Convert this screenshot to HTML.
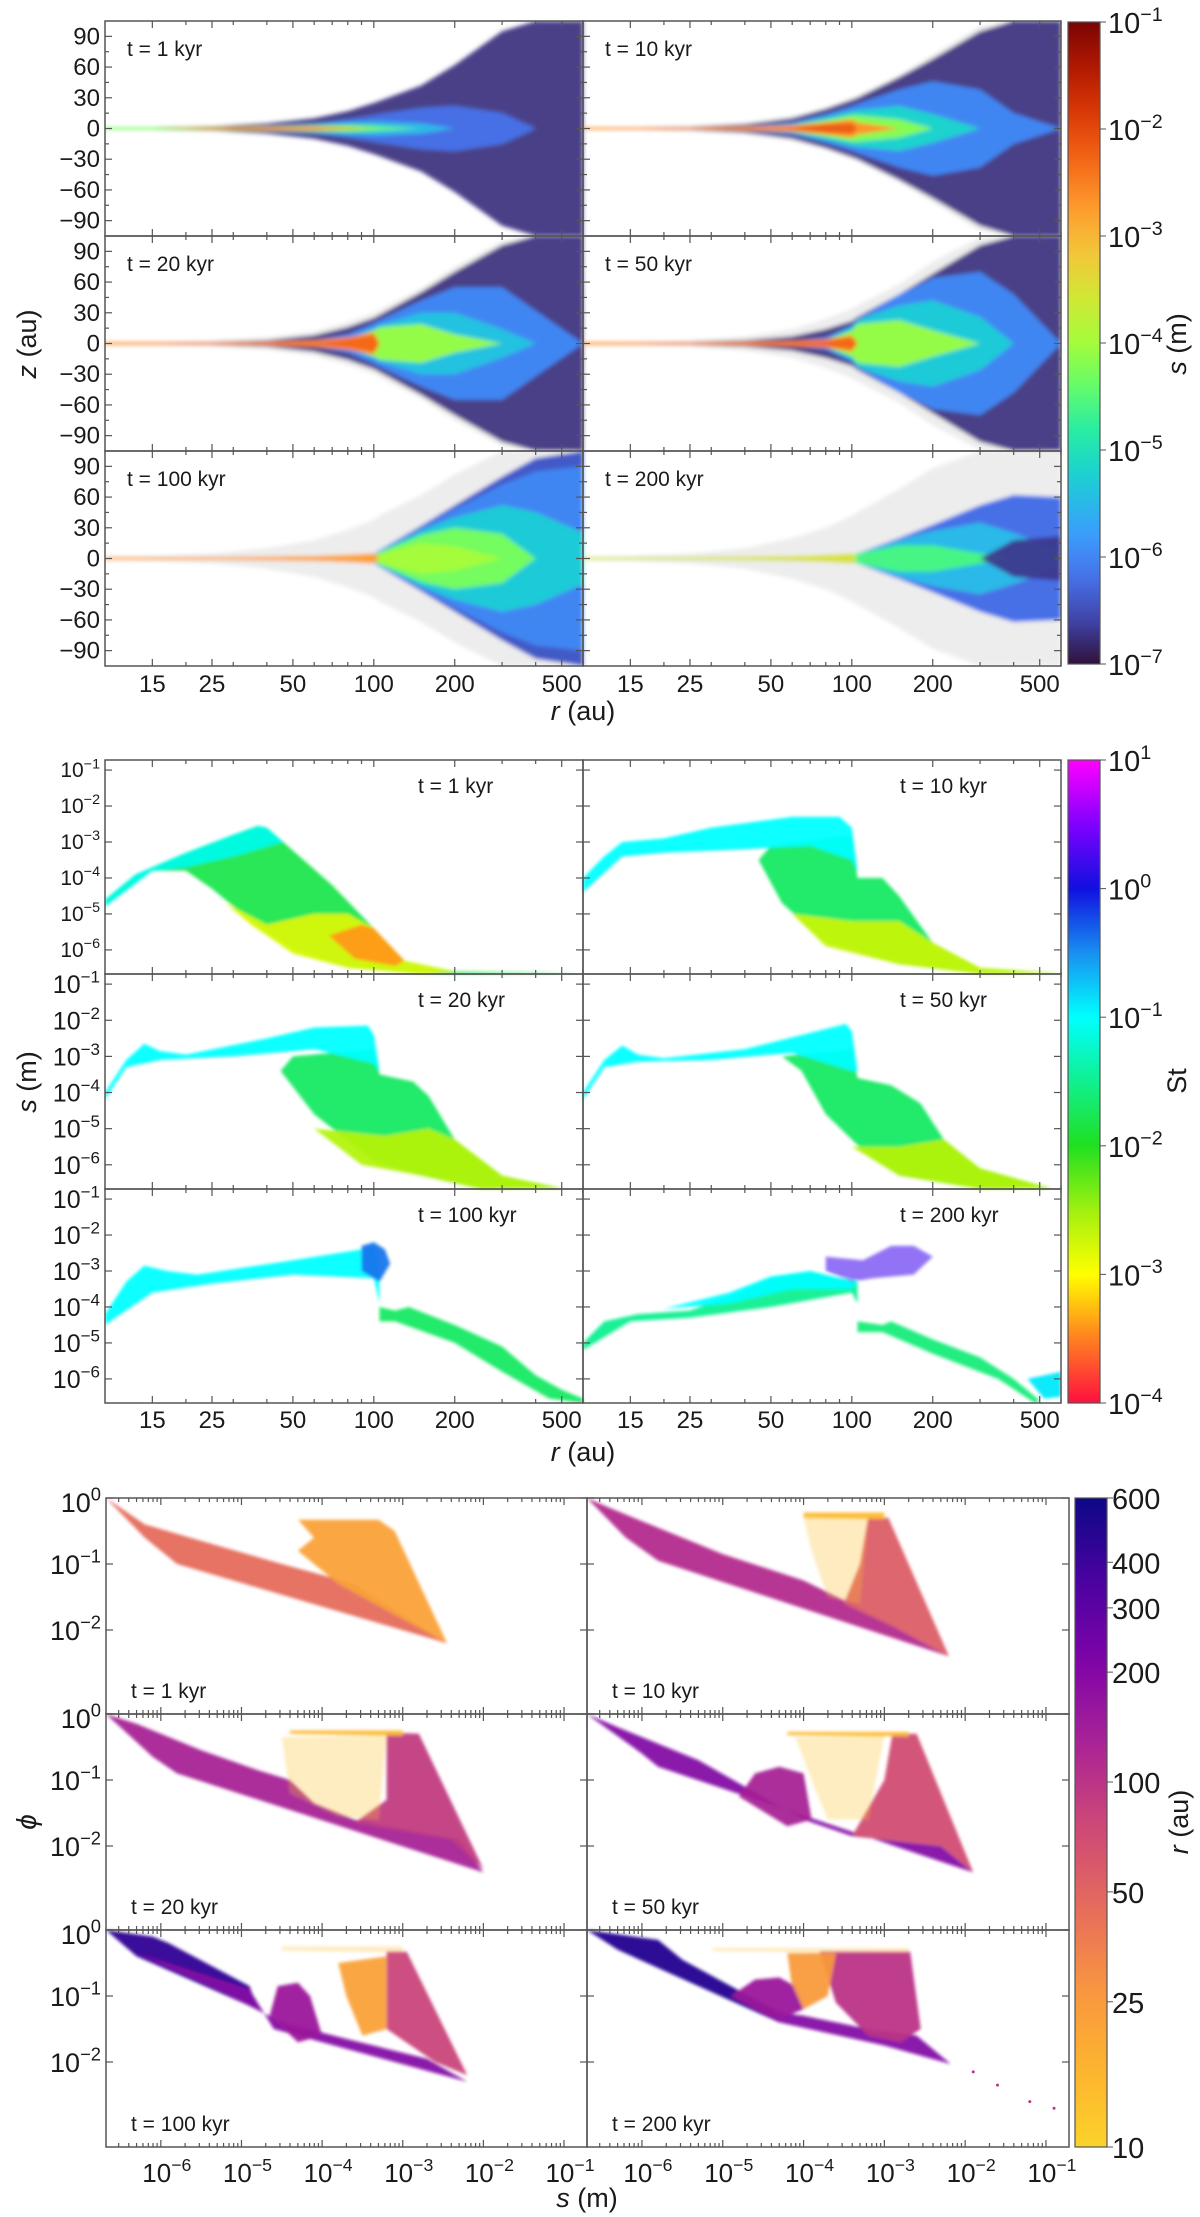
<!DOCTYPE html>
<html><head><meta charset="utf-8"><title>Dust evolution figure</title>
<style>
html,body{margin:0;padding:0;background:#fff;}
svg{display:block;font-family:"Liberation Sans","DejaVu Sans",sans-serif;}
</style></head>
<body>
<svg id="fig" xmlns="http://www.w3.org/2000/svg" width="1200" height="2217" viewBox="0 0 1200 2217">
<defs>
<filter id="blurA" x="-5%" y="-20%" width="110%" height="140%"><feGaussianBlur stdDeviation="2.2"/></filter>
<filter id="blurB" x="-5%" y="-10%" width="110%" height="120%"><feGaussianBlur stdDeviation="1.6"/></filter>
<clipPath id="clipTop"><rect x="105" y="21" width="956" height="645"/></clipPath>
<clipPath id="clipMid"><rect x="105" y="760" width="956" height="643"/></clipPath>
<clipPath id="clipBot"><rect x="106" y="1498" width="963" height="649"/></clipPath>
</defs>
</svg>
<script>
// ---------- Panel A data (r vs z, color = log10 s) ----------
const rGridA = [10,15,25,40,60,80,100,105,150,200,300,400,600];
const A_t1_logs = [-6.75,-6.2,-5.5,-4.3,-2.6];
const A_t1_h = [[0.8,1,2,5,10,17,25,27,42,62,95,105,105],[0,0,0.8,2.5,5,9,13,14,20,22,15,0,0],[0,0,0.5,1.5,3.5,6,7,7,5,0,0,0,0],[1.1,1.1,1.4,2,3,3.5,2.5,2,0,0,0,0,0],[0,0,0.8,1.5,1.8,0.8,0,0,0,0,0,0,0]];
const A_t10_logs = [-7.5,-6.75,-6.0,-5.2,-4.2,-2.7,-2.2];
const A_t10_h = [[1,1.5,3,6,12,20,30,32,52,72,100,105,105],[0.5,0.8,1.5,4,10,19,28,30,50,68,95,105,105],[0,0,0.5,2,6,14,22,24,38,46,38,15,0],[0,0,0.3,1.5,4,11,17,18,22,14,0,0,0],[0,0,0.3,1,3,8,13,13,9,0,0,0,0],[1.1,1.1,1.2,1.8,3,6,9,6,0,0,0,0,0],[0,0,0,0,1,4,5,0,0,0,0,0,0]];
const A_t20_logs = [-7.5,-6.75,-6.0,-5.4,-4.1,-2.6,-2.3];
const A_t20_h = [[1,1.5,3,6,12,21,30,33,54,75,100,105,105],[0.5,0.8,1.5,3,8,16,25,28,50,70,96,105,105],[0,0,0,1,3,9,20,23,42,55,55,32,0],[0,0,0,0.5,2,5,15,18,30,30,14,0,0],[0,0,0,0.3,1,4,13,16,19,9,0,0,0],[1.2,1.2,1.3,1.8,3,6,11,0,0,0,0,0,0],[0,0,0,0,1,4,8,0,0,0,0,0,0]];
const A_t50_logs = [-7.5,-6.75,-6.0,-5.3,-4.1,-2.6,-2.3];
const A_t50_h = [[1,1.5,3,7,14,24,34,37,58,80,104,105,105],[0.5,0.8,1.5,3,7,14,22,26,48,68,96,105,105],[0,0,0,0.5,2,6,18,24,48,64,70,48,0],[0,0,0,0,1,4,15,23,37,42,26,0,0],[0,0,0,0,0.5,3,13,19,23,13,0,0,0],[1.2,1.2,1.3,1.8,2.5,4,8,0,0,0,0,0,0],[0,0,0,0,1,3,6,0,0,0,0,0,0]];
const A_t100_logs = [-7.5,-6.4,-6.0,-5.3,-4.3,-4.0,-2.8];
const A_t100_h = [[1.5,2.5,5,10,18,28,38,42,62,82,105,105,105],[0,0,0,0,0,0,4,8,32,52,80,98,105],[0,0,0,0,0,0,4,8,30,48,72,85,90],[0,0,0,0,0,0,3,7,27,40,52,45,25],[0,0,0,0,0,0,2,6,23,30,24,0,0],[0,0,0,0,0,0,2,5,15,12,0,0,0],[1.2,1.2,1.3,1.8,2.5,3.5,5,0,0,0,0,0,0]];
const A_t200_logs = [-7.5,-6.2,-5.5,-4.6,-6.7,-3.5];
const A_t200_h = [[1.5,2.5,5,10,20,30,42,45,68,88,105,105,105],[0,0,0,0,0,0,3,5,20,33,52,62,60],[0,0,0,0,0,0,3,5,18,27,35,25,8],[0,0,0,0,0,0,3,5,13,13,5,0,0],[0,0,0,0,0,0,0,0,0,0,0,18,22],[1.1,1.1,1.3,1.8,2.5,3.5,5,0,0,0,0,0,0]];
const A_labels = ["t = 1 kyr","t = 10 kyr","t = 20 kyr","t = 50 kyr","t = 100 kyr","t = 200 kyr"];

// ---------- Panel B data (r vs log s, color = log10 St) ----------
const B_t1_st = [-1.8,-1.1,-2.8,-3.4];
const B_t1_shapes = [
 [[10,-4.6],[13,-3.9],[20,-3.3],[30,-2.8],[37,-2.55],[40,-2.6],[70,-4.2],[100,-5.4],[130,-6.3],[200,-6.6],[600,-6.65],[150,-6.67],[80,-6.5],[50,-6.0],[35,-5.2],[25,-4.3],[20,-3.8],[15,-3.8],[10,-4.8]],
 [[10,-4.6],[13,-3.9],[20,-3.3],[30,-2.8],[37,-2.55],[40,-2.6],[46,-3.0],[30,-3.4],[20,-3.7],[15,-3.8],[10,-4.8]],
 [[28,-4.7],[40,-5.3],[60,-5.0],[80,-5.0],[100,-5.4],[130,-6.3],[200,-6.6],[150,-6.67],[80,-6.5],[50,-6.1],[35,-5.3]],
 [[68,-5.6],[90,-5.3],[100,-5.4],[130,-6.3],[120,-6.45],[85,-6.25]]];
const B_t10_st = [-1.7,-2.7,-1.0];
const B_t10_shapes = [
 [[50,-3.1],[100,-2.8],[105,-4.0],[130,-4.0],[150,-4.5],[200,-5.8],[300,-6.5],[600,-6.65],[300,-6.67],[150,-6.4],[80,-5.8],[55,-4.7],[45,-3.5]],
 [[60,-5.0],[100,-5.2],[150,-5.2],[200,-5.8],[300,-6.5],[600,-6.65],[300,-6.67],[150,-6.4],[80,-5.9]],
 [[10,-4.0],[12,-3.4],[14,-3.0],[20,-2.9],[30,-2.6],[60,-2.3],[90,-2.3],[100,-2.6],[105,-3.8],[100,-3.5],[70,-3.1],[40,-3.2],[20,-3.3],[14,-3.4],[10,-4.4]]];
const B_t20_st = [-1.7,-2.6,-1.0];
const B_t20_shapes = [
 [[50,-3.0],[100,-2.8],[105,-3.5],[140,-3.7],[160,-4.1],[200,-5.3],[300,-6.3],[500,-6.65],[250,-6.67],[150,-6.3],[100,-5.9],[60,-4.6],[45,-3.4]],
 [[60,-5.0],[110,-5.2],[160,-5.0],[200,-5.3],[300,-6.3],[500,-6.65],[250,-6.67],[150,-6.3],[90,-6.0]],
 [[10,-4.0],[12,-3.1],[14,-2.65],[16,-2.85],[20,-2.95],[40,-2.5],[60,-2.2],[95,-2.15],[100,-2.4],[105,-3.4],[100,-3.2],[60,-2.8],[30,-3.0],[16,-3.1],[12,-3.3],[10,-4.2]]];
const B_t50_st = [-1.7,-2.6,-1.0];
const B_t50_shapes = [
 [[55,-3.0],[100,-2.8],[105,-3.6],[140,-3.8],[180,-4.3],[220,-5.3],[300,-6.1],[550,-6.65],[300,-6.67],[150,-6.3],[110,-5.6],[80,-4.6],[65,-3.4]],
 [[100,-5.5],[150,-5.5],[220,-5.3],[300,-6.1],[550,-6.65],[300,-6.67],[150,-6.3]],
 [[10,-4.0],[12,-3.1],[14,-2.7],[16,-2.95],[20,-3.05],[40,-2.8],[70,-2.35],[95,-2.1],[100,-2.3],[105,-3.4],[100,-3.4],[60,-2.9],[30,-3.1],[16,-3.15],[12,-3.3],[10,-4.2]]];
const B_t100_st = [-1.0,-0.4,-1.7];
const B_t100_shapes = [
 [[10,-4.2],[12,-3.3],[14,-2.85],[17,-3.0],[22,-3.1],[30,-2.95],[50,-2.7],[90,-2.4],[100,-2.3],[105,-2.8],[105,-3.9],[100,-3.2],[50,-3.1],[25,-3.35],[15,-3.6],[10,-4.5]],
 [[90,-2.3],[100,-2.2],[110,-2.4],[115,-2.8],[105,-3.3],[90,-3.0]],
 [[105,-4.0],[120,-4.1],[135,-4.0],[200,-4.5],[300,-5.1],[400,-5.9],[500,-6.3],[600,-6.55],[600,-6.67],[450,-6.55],[300,-5.8],[200,-5.0],[120,-4.4],[105,-4.4]]];
const B_t200_st = [-1.5,-1.0,0.2,-1.6,-0.9];
const B_t200_shapes = [
 [[10,-5.0],[12,-4.4],[16,-4.2],[25,-4.1],[35,-3.7],[50,-3.2],[70,-3.0],[90,-3.2],[105,-3.3],[105,-3.9],[100,-3.6],[50,-4.0],[25,-4.3],[15,-4.4],[10,-5.2]],
 [[20,-4.05],[35,-3.6],[50,-3.15],[70,-3.0],[90,-3.2],[105,-3.3],[100,-3.5],[60,-3.5],[35,-3.9]],
 [[80,-2.6],[110,-2.7],[140,-2.3],[170,-2.3],[200,-2.6],[170,-3.1],[120,-3.2],[100,-3.3],[80,-3.0]],
 [[105,-4.4],[130,-4.5],[140,-4.4],[200,-4.9],[300,-5.4],[400,-6.0],[500,-6.6],[480,-6.67],[350,-6.0],[200,-5.3],[130,-4.7],[105,-4.7]],
 [[450,-6.0],[600,-5.8],[600,-6.5],[520,-6.55]]];
const B_labels = A_labels;

// ---------- Panel C data (log s vs log phi, color = r) ----------
const C_t1_r = [45,22];
const C_t1_shapes = [
 [[-6.68,0],[-6.2,-0.6],[-5.8,-1.0],[-2.45,-2.2],[-3.6,-1.3],[-4.5,-1.0],[-5.5,-0.65],[-6.2,-0.4]],
 [[-4.3,-0.33],[-3.3,-0.33],[-3.1,-0.5],[-2.45,-2.2],[-3.2,-1.7],[-3.8,-1.3],[-4.1,-1.0],[-4.3,-0.8],[-4.1,-0.6]]];
const C_t10_r = [110,55,15,14];
const C_t10_shapes = [
 [[-6.68,0],[-6.2,-0.6],[-5.8,-0.95],[-2.2,-2.4],[-2.8,-2.0],[-3.5,-1.55],[-4.0,-1.25],[-5.0,-0.85],[-5.8,-0.45],[-6.4,-0.15]],
 [[-3.5,-1.6],[-3.3,-1.0],[-3.2,-0.3],[-2.95,-0.3],[-2.2,-2.4],[-2.8,-2.0]],
 [[-4.0,-0.22],[-3.0,-0.22],[-3.0,-0.32],[-4.0,-0.3]],
 [[-4.0,-0.3],[-3.2,-0.3],[-3.3,-1.6],[-3.7,-1.5],[-3.9,-0.8]]];
const C_t20_r = [130,90,15,13];
const C_t20_shapes = [
 [[-6.68,0],[-6.1,-0.65],[-5.8,-0.9],[-2.0,-2.4],[-2.3,-1.9],[-3.6,-1.6],[-4.1,-1.35],[-4.4,-1.0],[-4.8,-0.85],[-5.5,-0.55],[-6.3,-0.15]],
 [[-3.6,-1.65],[-3.2,-1.3],[-3.2,-0.28],[-2.8,-0.3],[-2.0,-2.35],[-2.4,-1.9]],
 [[-4.4,-0.25],[-3.0,-0.25],[-3.0,-0.33],[-4.4,-0.3]],
 [[-4.5,-0.35],[-3.2,-0.33],[-3.3,-1.6],[-3.8,-1.55],[-4.4,-1.2]]];
const C_t50_r = [200,130,70,15,13];
const C_t50_shapes = [
 [[-6.68,0],[-6.0,-0.6],[-5.8,-0.8],[-1.9,-2.4],[-2.3,-2.0],[-3.4,-1.85],[-4.0,-1.6],[-4.8,-1.05],[-5.3,-0.7],[-6.3,-0.2]],
 [[-4.8,-1.25],[-4.6,-0.9],[-4.3,-0.8],[-4.0,-0.9],[-3.9,-1.6],[-4.2,-1.7]],
 [[-3.4,-1.85],[-3.0,-1.0],[-2.9,-0.3],[-2.6,-0.3],[-1.9,-2.4],[-2.3,-2.0]],
 [[-4.2,-0.27],[-2.7,-0.27],[-2.7,-0.34],[-4.2,-0.32]],
 [[-4.1,-0.35],[-3.0,-0.33],[-3.2,-1.6],[-3.7,-1.6],[-3.9,-1.0]]];
const C_t100_r = [450,200,150,80,22,15];
const C_t100_shapes = [
 [[-6.68,0],[-6.1,-0.1],[-5.9,-0.2],[-4.9,-0.85],[-4.8,-1.2],[-6.3,-0.4]],
 [[-6.3,-0.35],[-4.9,-0.9],[-4.6,-1.5],[-2.2,-2.3],[-2.7,-1.95],[-3.7,-1.65],[-4.5,-1.4],[-5.3,-0.9]],
 [[-4.65,-1.3],[-4.55,-0.85],[-4.3,-0.8],[-4.15,-1.0],[-4.0,-1.6],[-4.3,-1.7]],
 [[-3.2,-0.33],[-2.95,-0.33],[-2.2,-2.2],[-2.6,-2.0],[-3.2,-1.5]],
 [[-3.8,-0.5],[-3.2,-0.4],[-3.2,-1.5],[-3.5,-1.6],[-3.7,-1.0]],
 [[-4.5,-0.25],[-3.0,-0.25],[-3.0,-0.34],[-4.5,-0.31]]];
const C_t200_r = [500,200,150,100,25,15];
const C_t200_shapes = [
 [[-6.68,0],[-5.8,-0.15],[-5.5,-0.45],[-4.3,-1.25],[-4.3,-1.4],[-6.3,-0.3]],
 [[-4.6,-1.2],[-4.3,-1.4],[-3.0,-1.75],[-2.18,-2.03],[-2.6,-1.6],[-3.2,-1.5],[-4.0,-1.3]],
 [[-4.9,-1.0],[-4.6,-0.75],[-4.3,-0.72],[-4.1,-0.85],[-4.0,-1.2],[-4.3,-1.35],[-4.6,-1.2]],
 [[-3.8,-0.33],[-2.68,-0.33],[-2.55,-1.5],[-2.8,-1.7],[-3.2,-1.6],[-3.6,-1.1]],
 [[-4.2,-0.35],[-3.6,-0.35],[-3.7,-1.0],[-4.0,-1.2],[-4.15,-0.8]],
 [[-5.12,-0.27],[-2.7,-0.27],[-2.7,-0.35],[-5.12,-0.32]]];
const C_t200_tail_s = [-1.9,-1.6,-1.2,-0.9];
const C_t200_tail_phi = [-2.15,-2.35,-2.6,-2.7];

// tick data
const rTicks = [15,25,50,100,200,500];
const rMinor = [20,30,40,60,70,80,90,300,400,600];
const zTicks = [90,60,30,0,-30,-60,-90];
const sTicksB = [-1,-2,-3,-4,-5,-6];
const sTicksC = [-6,-5,-4,-3,-2,-1];
const phiTicks = [0,-1,-2];
const cbA_ticks = [-1,-2,-3,-4,-5,-6,-7];
const cbB_ticks = [1,0,-1,-2,-3,-4];
const cbC_ticks = [600,400,300,200,100,50,25,10];

// ---------- colormaps ----------
const turbo = [[0,'#30123b'],[0.07,'#4145ab'],[0.14,'#4675ed'],[0.21,'#39a2fc'],[0.29,'#1bcfd4'],[0.36,'#24eca6'],[0.43,'#61fc6c'],[0.5,'#a4fc3b'],[0.57,'#d1e834'],[0.64,'#f3c63a'],[0.71,'#fe9b2d'],[0.79,'#f36315'],[0.86,'#d93806'],[0.93,'#b11901'],[1,'#7a0403']];
const stmap = [[0,'#ff1040'],[0.1,'#ff8020'],[0.2,'#ffff00'],[0.3,'#a0f010'],[0.4,'#20e020'],[0.6,'#00ffff'],[0.7,'#1890f0'],[0.8,'#1010e0'],[0.9,'#8000ff'],[1,'#ff00ff']];
const plasma = [[0,'#0d0887'],[0.13,'#4c02a1'],[0.25,'#7e03a8'],[0.38,'#a92395'],[0.5,'#cc4778'],[0.63,'#e56b5d'],[0.75,'#f89441'],[0.88,'#fdb42f'],[1,'#fcd22a']];
function hex(c){return [parseInt(c.slice(1,3),16),parseInt(c.slice(3,5),16),parseInt(c.slice(5,7),16)];}
function cmap(m,t){t=Math.max(0,Math.min(1,t));for(let i=1;i<m.length;i++){if(t<=m[i][0]){const a=hex(m[i-1][1]),b=hex(m[i][1]);const f=(t-m[i-1][0])/(m[i][0]-m[i-1][0]);return 'rgb('+a.map((v,k)=>Math.round(v+(b[k]-v)*f)).join(',')+')';}}return m[m.length-1][1];}
const colS = v => cmap(turbo,(v+7)/6);
const colSt = v => cmap(stmap,(v+4)/5);
const colR = r => cmap(plasma,1-Math.log10(r/10)/Math.log10(60));

// ---------- geometry ----------
const colsA=[[105,583],[583,1061]], rowsA=[[21,236],[236,451],[451,666]];
const rowsB=[[760,974],[974,1189],[1189,1403]];
const colsC=[[106,587],[587,1069]], rowsC=[[1498,1714],[1714,1930],[1930,2147]];
const L=Math.log10;
const xR=(c,r)=>colsA[c][0]+(L(r)-1)/L(60)*(colsA[c][1]-colsA[c][0]);
const yZ=(rw,z)=>(rowsA[rw][0]+rowsA[rw][1])/2 - z/105*(rowsA[rw][1]-rowsA[rw][0])/2;
const yS=(rw,ls)=>rowsB[rw][0]+(-0.72-ls)/5.95*(rowsB[rw][1]-rowsB[rw][0]);
const xSC=(c,ls)=>colsC[c][0]+(ls+6.68)/5.965*(colsC[c][1]-colsC[c][0]);
const yPhi=(rw,lp)=>rowsC[rw][0]-lp*66;

const svg=document.getElementById('fig');
const NS='http://www.w3.org/2000/svg';
function mk(tag,attrs,parent){const e=document.createElementNS(NS,tag);for(const k in attrs)e.setAttribute(k,attrs[k]);(parent||svg).appendChild(e);return e;}
function txt(x,y,s,size,anchor,parent,extra){const t=mk('text',Object.assign({x:x,y:y,'font-size':size,'text-anchor':anchor||'start',fill:'#1a1a1a'},extra||{}),parent);t.textContent=s;return t;}
function pow10(x,y,exp,size,anchor,parent){const t=mk('text',{x:x,y:y,'font-size':size,'text-anchor':anchor,fill:'#1a1a1a'},parent);const a=document.createElementNS(NS,'tspan');a.textContent='10';t.appendChild(a);const b=document.createElementNS(NS,'tspan');b.setAttribute('dy',-size*0.42);b.setAttribute('font-size',size*0.68);b.textContent=exp;t.appendChild(b);return t;}
const ex=v=>(v<0?'\u2212':'')+Math.abs(v);

// ===== PANEL A =====
const gA=mk('g',{'clip-path':'url(#clipTop)'});


const A_sets=[[A_t1_logs,A_t1_h],[A_t10_logs,A_t10_h],[A_t20_logs,A_t20_h],[A_t50_logs,A_t50_h],[A_t100_logs,A_t100_h],[A_t200_logs,A_t200_h]];
A_sets.forEach((set,i)=>{
  const c=i%2, rw=Math.floor(i/2);
  const g=mk('g',{filter:'url(#blurA)'},gA);
  
  
  set[0].forEach((ls,k)=>{
    const h=set[1][k];
    let pts=rGridA.map((r,j)=>xR(c,r)+','+yZ(rw,h[j]));
    for(let j=rGridA.length-1;j>=0;j--)pts.push(xR(c,rGridA[j])+','+yZ(rw,-h[j]));
    const fill= ls<-7.2 ? '#ededed' : colS(ls);
    const p=mk('polygon',{points:pts.join(' '),fill:fill,opacity: ls<-6.6&&ls>-7.2 ? 0.92:1},g);
    
    
  });
});

// ===== PANEL B =====
const gB=mk('g',{'clip-path':'url(#clipMid)'});


const B_sets=[[B_t1_st,B_t1_shapes],[B_t10_st,B_t10_shapes],[B_t20_st,B_t20_shapes],[B_t50_st,B_t50_shapes],[B_t100_st,B_t100_shapes],[B_t200_st,B_t200_shapes]];
B_sets.forEach((set,i)=>{
  const c=i%2, rw=Math.floor(i/2);
  const g=mk('g',{filter:'url(#blurB)'},gB);
  
  
  set[1].forEach((shape,k)=>{
    const pts=shape.map(p=>xR(c,p[0])+','+yS(rw,p[1])).join(' ');
    const st=set[0][k];
    const p=mk('polygon',{points:pts,fill:colSt(st),opacity: st>0?0.55:0.95},g);
    
    
  });
});

// ===== PANEL C =====
const gC=mk('g',{'clip-path':'url(#clipBot)'});


const C_sets=[[C_t1_r,C_t1_shapes],[C_t10_r,C_t10_shapes],[C_t20_r,C_t20_shapes],[C_t50_r,C_t50_shapes],[C_t100_r,C_t100_shapes],[C_t200_r,C_t200_shapes]];
C_sets.forEach((set,i)=>{
  const c=i%2, rw=Math.floor(i/2);
  const g=mk('g',{filter:'url(#blurB)'},gC);
  
  
  set[1].forEach((shape,k)=>{
    const pts=shape.map(p=>xSC(c,p[0])+','+yPhi(rw,p[1])).join(' ');
    const r=set[0][k];
    const op = (k===set[0].length-1 && r<=15 && set[0].length>3) ? 0.3 : 0.95;
    const p=mk('polygon',{points:pts,fill:colR(r),opacity:op},g);
    
    
  });
});
C_t200_tail_s.forEach((s,k)=>{
  const d=mk('circle',{cx:xSC(1,s),cy:yPhi(2,C_t200_tail_phi[k]),r:1.5,fill:colR(100)},gC);
  
  
});

// ===== frames & ticks =====
function frame(x0,y0,x1,y1,name){const r=mk('rect',{x:x0,y:y0,width:x1-x0,height:y1-y0,fill:'none',stroke:'#555','stroke-width':1.5});}
function vt(x,y0,y1,len){mk('line',{x1:x,y1:y0,x2:x,y2:y0+len,stroke:'#555','stroke-width':1.2});mk('line',{x1:x,y1:y1,x2:x,y2:y1-len,stroke:'#555','stroke-width':1.2});}
function ht(y,x0,x1,len){mk('line',{x1:x0,y1:y,x2:x0+len,y2:y,stroke:'#555','stroke-width':1.2});mk('line',{x1:x1,y1:y,x2:x1-len,y2:y,stroke:'#555','stroke-width':1.2});}

// Panel A
for(let c=0;c<2;c++)for(let rw=0;rw<3;rw++){
  const [x0,x1]=colsA[c],[y0,y1]=rowsA[rw];
  frame(x0,y0,x1,y1,'rz-axes-'+(rw*2+c));
  rTicks.forEach(r=>vt(xR(c,r),y0,y1,7));
  rMinor.forEach(r=>vt(xR(c,r),y0,y1,4));
  zTicks.forEach(z=>ht(yZ(rw,z),x0,x1,7));
  [75,45,15,-15,-45,-75].forEach(z=>ht(yZ(rw,z),x0,x1,4));
  txt(x0+22,y0+35,A_labels[rw*2+c],21,'start');
  if(c===0) zTicks.forEach(z=>txt(100,yZ(rw,z)+8,z<0?'\u2212'+(-z):String(z),24,'end'));
}
for(let c=0;c<2;c++) rTicks.forEach(r=>txt(xR(c,r),692,String(r),24,'middle'));
// Panel B
for(let c=0;c<2;c++)for(let rw=0;rw<3;rw++){
  const [x0,x1]=colsA[c],[y0,y1]=rowsB[rw];
  frame(x0,y0,x1,y1,'rs-axes-'+(rw*2+c));
  rTicks.forEach(r=>vt(xR(c,r),y0,y1,7));
  rMinor.forEach(r=>vt(xR(c,r),y0,y1,4));
  sTicksB.forEach(s=>ht(yS(rw,s),x0,x1,7));
  const lbl=B_labels[rw*2+c];
  txt(c===0?418:900,y0+33,lbl,21,'start');
  if(c===0) sTicksB.forEach(s=>pow10(100,yS(rw,s)+(rw===0?7:9),ex(s),rw===0?21:25,'end'));
}
for(let c=0;c<2;c++) rTicks.forEach(r=>txt(xR(c,r),1428,String(r),24,'middle'));
// Panel C
for(let c=0;c<2;c++)for(let rw=0;rw<3;rw++){
  const [x0,x1]=colsC[c],[y0,y1]=rowsC[rw];
  frame(x0,y0,x1,y1,'s-phi-axes-'+(rw*2+c));
  for(let d=-7;d<0;d++){for(let m=1;m<10;m++){const ls=d+L(m);if(ls<-6.68||ls>-0.715)continue;vt(xSC(c,ls),y0,y1,m===1?7:4);}}
  phiTicks.forEach(p=>ht(yPhi(rw,p),x0,x1,7));
  txt(x0+25,y1-16,A_labels[rw*2+c],21,'start');
  if(c===0) phiTicks.forEach(p=>pow10(101,yPhi(rw,p)+(p===0?14:10),String(p).replace('-','\u2212'),27,'end'));
}
for(let c=0;c<2;c++) sTicksC.forEach(s=>pow10(xSC(c,s)+6,2182,ex(s),26,'middle'));

// axis titles
function rot(x,y,ang,parts,size,name){const t=mk('text',{x:x,y:y,'font-size':size,'text-anchor':'middle',fill:'#1a1a1a',transform:'rotate('+ang+' '+x+' '+y+')'});parts.forEach(p=>{const s=document.createElementNS(NS,'tspan');if(p[1])s.setAttribute('font-style','italic');s.textContent=p[0];t.appendChild(s);});return t;}
rot(36,344,-90,[['z',1],[' (au)',0]],27,'z-axis-title');
rot(36,1082,-90,[['s',1],[' (m)',0]],27,'s-axis-title');
rot(36,1822,-90,[['\u03d5',1]],28,'phi-axis-title');
rot(583,720,0,[['r',1],[' (au)',0]],27,'r-axis-title-top');
rot(583,1461,0,[['r',1],[' (au)',0]],27,'r-axis-title-middle');
rot(587,2207,0,[['s',1],[' (m)',0]],27,'s-axis-title-bottom');

// ===== colorbars =====
function cbar(id,x0,x1,y0,y1,fn,name){
  const g=mk('linearGradient',{id:id,x1:0,y1:1,x2:0,y2:0},svg.querySelector('defs'));
  for(let i=0;i<=30;i++){mk('stop',{offset:i/30,'stop-color':fn(i/30)},g);}
  const r=mk('rect',{x:x0,y:y0,width:x1-x0,height:y1-y0,fill:'url(#'+id+')',stroke:'#555','stroke-width':1.2});
  
}
cbar('gA',1068,1100,22,664,t=>cmap(turbo,t),'colorbar-s');
cbA_ticks.forEach(v=>{const y=22+(-1-v)*(642/6);mk('line',{x1:1100,y1:y,x2:1106,y2:y,stroke:'#555'});pow10(1108,y+11,ex(v),29,'start');});
rot(1186,344,-90,[['s',1],[' (m)',0]],27,'colorbar-s-title');
cbar('gB',1068,1100,760,1403,t=>cmap(stmap,t),'colorbar-st');
cbB_ticks.forEach(v=>{const y=760+(1-v)*(643/5);mk('line',{x1:1100,y1:y,x2:1106,y2:y,stroke:'#555'});pow10(1108,y+11,ex(v),29,'start');});
rot(1186,1081,-90,[['St',0]],27,'colorbar-st-title');
cbar('gC',1075,1107,1498,2147,t=>cmap(plasma,1-t),'colorbar-r');
cbC_ticks.forEach(v=>{const y=2147-L(v/10)/L(60)*649;mk('line',{x1:1107,y1:y,x2:1113,y2:y,stroke:'#555'});txt(1112,y+11,String(v),29,'start');});
rot(1188,1822,-90,[['r',1],[' (au)',0]],27,'colorbar-r-title');
</script>
</body></html>
